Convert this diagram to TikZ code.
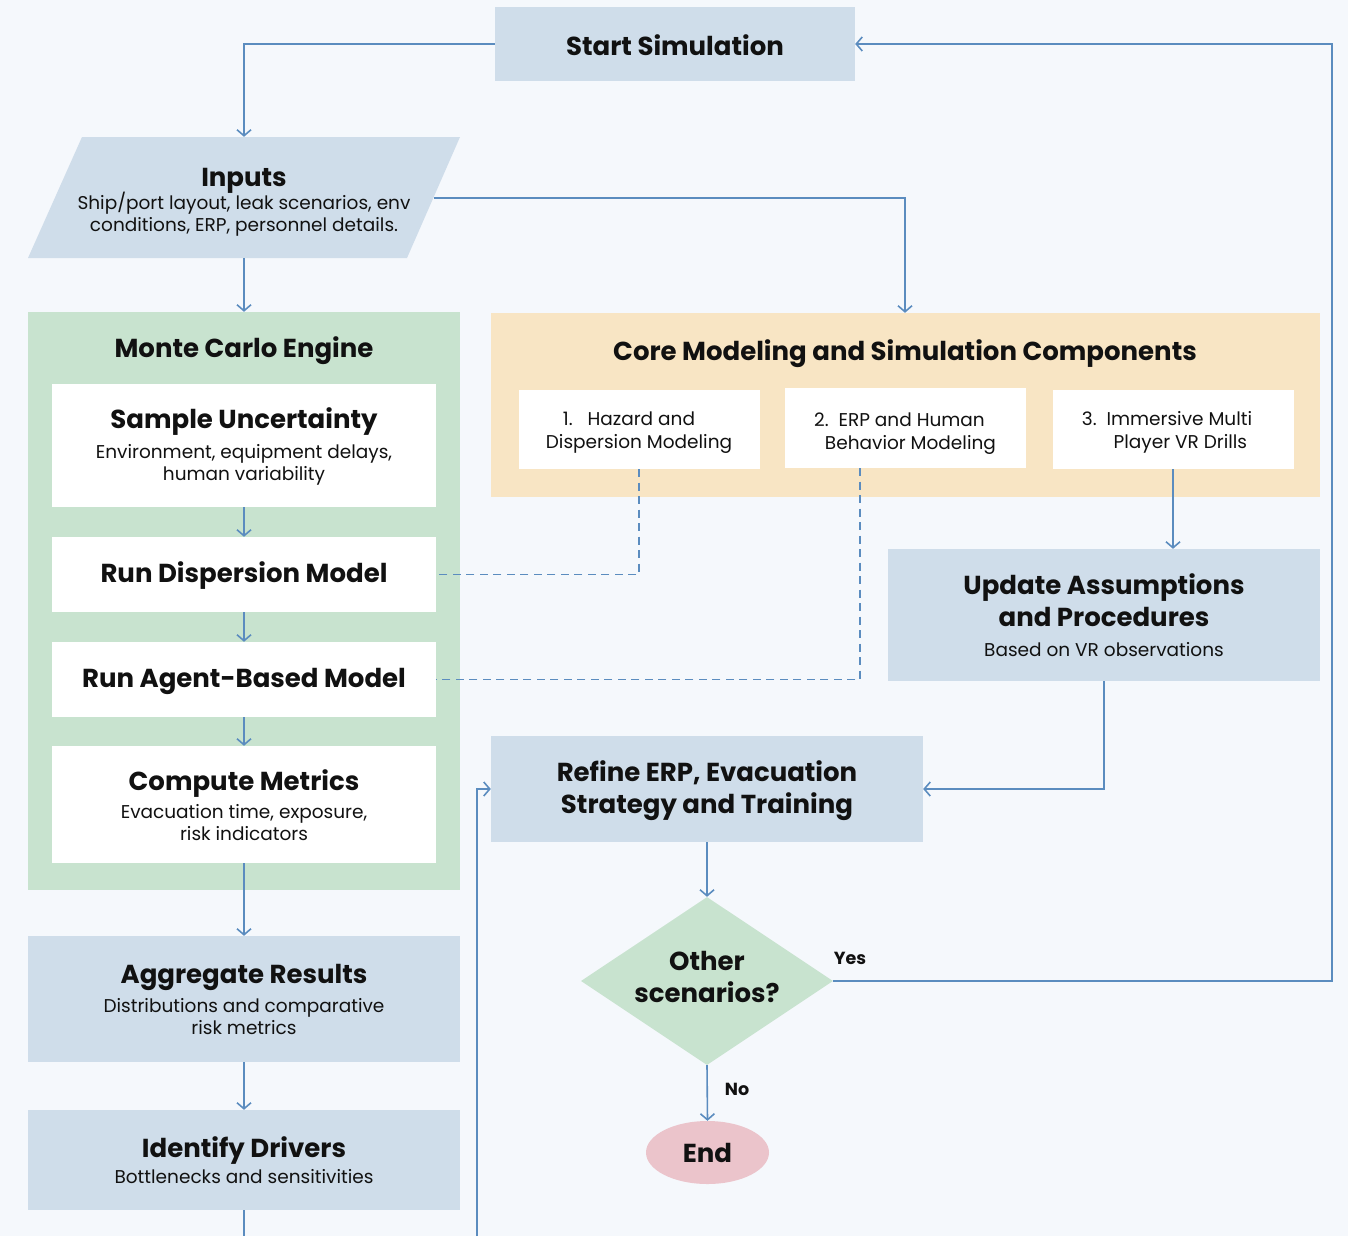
\documentclass[tikz,border=0pt]{standalone}
\usepackage{fontspec}
\setmainfont{Poppins}
\usetikzlibrary{shapes.geometric,arrows.meta,calc}
\definecolor{bgC}{HTML}{F5F8FC}
\definecolor{blueF}{HTML}{CFDDEA}
\definecolor{greenF}{HTML}{C8E3CF}
\definecolor{tanF}{HTML}{F8E5C4}
\definecolor{pinkF}{HTML}{EBC4CB}
\definecolor{lineC}{HTML}{5B8CBF}
\definecolor{txtC}{HTML}{111111}
\newcommand{\tf}{\fontsize{26}{32}\selectfont\bfseries}
\newcommand{\sfz}{\fontsize{18.5}{22}\selectfont\mdseries}
\newcommand{\cf}{\fontsize{18.5}{23}\selectfont}
\newcommand{\vstr}[1]{\rule{0pt}{#1}}
\newcommand{\padr}[1]{\rule{#1}{0pt}}
\begin{document}
\begin{tikzpicture}[x=1pt,y=-1pt,
  box/.style={rectangle, inner sep=0pt, align=center, text=txtC, font=\tf},
  bluebox/.style={box, fill=blueF},
  whitebox/.style={box, fill=white},
  compbox/.style={rectangle, inner sep=0pt, align=center, text=txtC, fill=white, font=\cf},
  arr/.style={draw=lineC, line width=1.6pt, -{Straight Barb[length=6pt,width=14pt,line width=1.6pt]}},
  plainline/.style={draw=lineC, line width=1.6pt},
  dashline/.style={draw=lineC, line width=1.6pt, dash pattern=on 8pt off 5.5pt},
  lbl/.style={text=txtC, font=\fontsize{17.5}{20}\selectfont\bfseries, inner sep=0pt}
]
\fill[bgC] (0,0) rectangle (1348,1236);
\useasboundingbox (0,0) rectangle (1348,1236);

% Start
\node[bluebox, minimum width=360pt, minimum height=74pt] (start) at (675,44) {\vstr{23pt}Start Simulation};

% Inputs (parallelogram)
\fill[blueF] (82,137) -- (460,137) -- (407,258) -- (28,258) -- cycle;
\node[box, minimum width=432pt, minimum height=121pt] (inputs) at (244,197.5)
  {\vstr{27pt}Inputs\\[-9pt]\sfz Ship/port layout, leak scenarios, env\\[-10pt]\sfz conditions, ERP, personnel details.};
\coordinate (inputsR) at (433.5,198);

% Monte Carlo Engine
\node[box, fill=greenF, minimum width=432pt, minimum height=578pt] (mc) at (244,601) {};
\node[box] (mctitle) at (244,349) {\vstr{25pt}Monte Carlo Engine};
\node[whitebox, minimum width=384pt, minimum height=123pt] (sample) at (244,445.5)
  {\vstr{23pt}Sample Uncertainty\\[-2pt]\sfz Environment, equipment delays,\\[-10pt]\sfz human variability};
\node[whitebox, minimum width=384pt, minimum height=75pt] (disp) at (244,574.5) {\vstr{23pt}Run Dispersion Model};
\node[whitebox, minimum width=384pt, minimum height=75pt] (agent) at (244,679.5) {\vstr{23pt}Run Agent-Based Model};
\node[whitebox, minimum width=384pt, minimum height=117pt] (compute) at (244,804.5)
  {\vstr{22pt}Compute Metrics\\[-4pt]\sfz Evacuation time, exposure,\\[-10pt]\sfz risk indicators};

% Aggregate and Identify
\node[bluebox, minimum width=432pt, minimum height=126pt] (agg) at (244,999)
  {Aggregate Results\\[-3pt]\sfz Distributions and comparative\\[-10pt]\sfz risk metrics};
\node[bluebox, minimum width=432pt, minimum height=100pt] (ident) at (244,1160)
  {Identify Drivers\\[-6pt]\sfz Bottlenecks and sensitivities};

% Core components
\node[box, fill=tanF, minimum width=829pt, minimum height=184pt] (core) at (905,405) {};
\node[box] (coretitle) at (905,352) {\vstr{25pt}Core Modeling and Simulation Components};
\node[compbox, minimum width=241pt, minimum height=79pt] (c1) at (639,429.5)
  {\vstr{20pt}1.\ \ \ Hazard and\padr{20pt}\\Dispersion Modeling};
\node[compbox, minimum width=241pt, minimum height=80pt] (c2) at (905.5,428)
  {\vstr{24pt}2.\ \ ERP and Human\padr{12pt}\\\ \ Behavior Modeling};
\node[compbox, minimum width=241pt, minimum height=79pt] (c3) at (1173,429.5)
  {\vstr{20pt}3.\ \ Immersive Multi\padr{12pt}\\\ \ \ Player VR Drills};

% Update
\node[bluebox, minimum width=432pt, minimum height=132pt] (update) at (1104,615)
  {Update Assumptions\\and Procedures\\[-2pt]\sfz Based on VR observations};

% Refine
\node[bluebox, minimum width=432pt, minimum height=106pt] (refine) at (707,789)
  {\vstr{25pt}Refine ERP, Evacuation\\Strategy and Training};

% Decision
\node[diamond, fill=greenF, inner sep=0pt, minimum width=252pt, minimum height=168pt, shape aspect=1.5,
      align=center, text=txtC, font=\tf] (dec) at (707,981) {Other\\scenarios?\rule[-8pt]{0pt}{1pt}};

% End
\node[ellipse, fill=pinkF, inner sep=0pt, minimum width=123pt, minimum height=63pt, text=txtC, font=\tf] (end) at (707.5,1152.5) {End};

% helper coordinates
\coordinate (rightrail) at (1332,0);
\coordinate (bot1) at (244,1236);
\coordinate (bot2) at (477,1236);

% connectors
\draw[arr] (start.west) -| (inputs.north);
\draw[arr] (inputsR) -| (core.north);
\draw[arr] (inputs.south) -- (mc.north);
\draw[arr] (sample.south) -- (disp.north);
\draw[arr] (disp.south) -- (agent.north);
\draw[arr] (agent.south) -- (compute.north);
\draw[arr] (compute.south) -- (agg.north);
\draw[arr] (agg.south) -- (ident.north);
\draw[plainline] (ident.south) -- (bot1);
\draw[arr] (bot2) |- (refine.west);
\draw[dashline] (c1.south) |- (disp.east);
\draw[dashline] ([xshift=-45.5pt]c2.south) |- (agent.east);
\draw[arr] (c3.south) -- (c3.south |- update.north);
\draw[arr] (update.south) |- (refine.east);
\draw[arr] (refine.south) -- (dec.north);
\draw[arr] (dec.east) -- (dec.east -| rightrail) |- (start.east);
\draw[arr] (dec.south) -- (end.north);

\node[lbl] (yes) at (850,958) {Yes};
\node[lbl] (no) at (737,1089) {No};
\end{tikzpicture}
\end{document}
